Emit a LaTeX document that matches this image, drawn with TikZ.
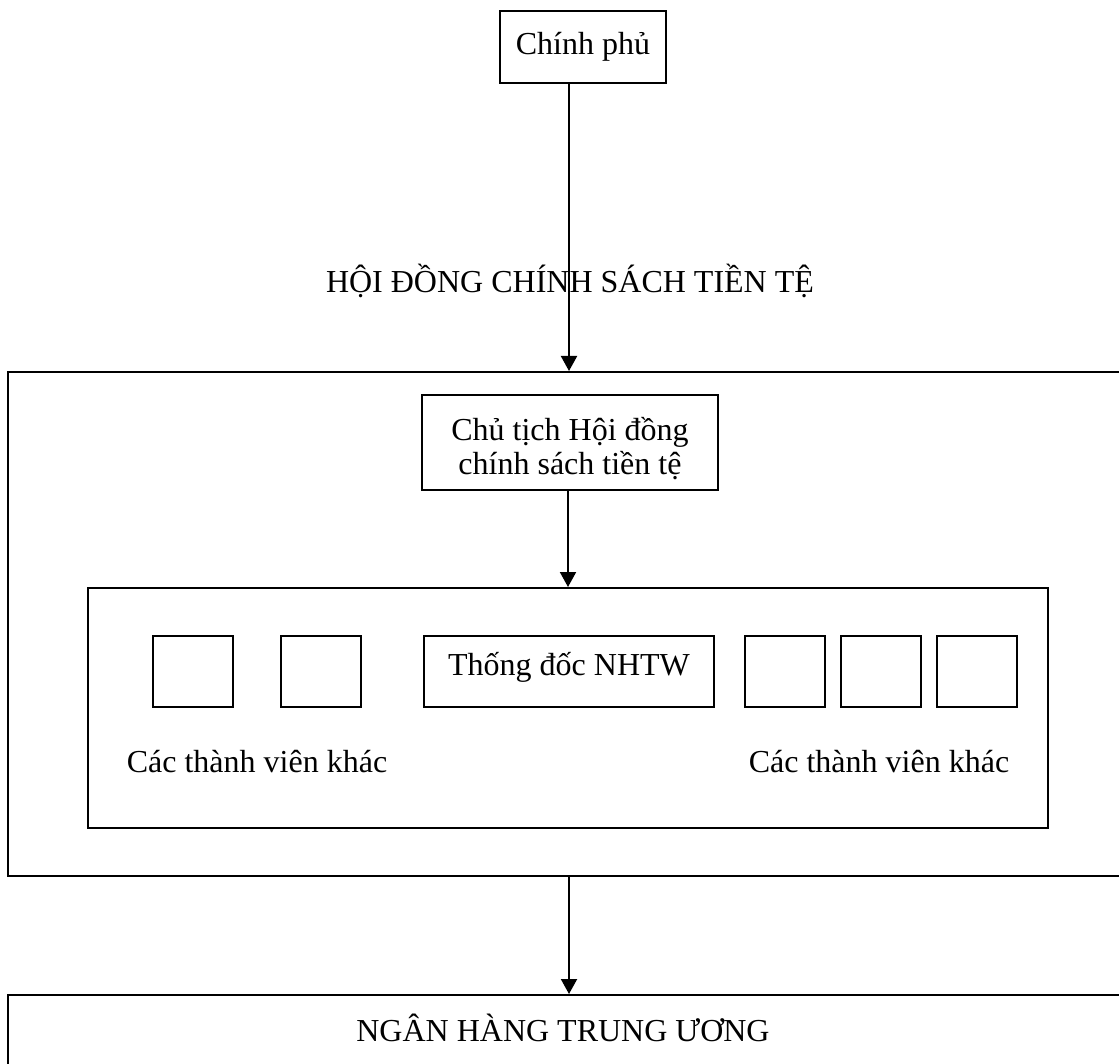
\documentclass[tikz,border=0pt]{standalone}
\usepackage{fontspec}
\setmainfont{Liberation Serif}
\usetikzlibrary{arrows.meta}

\tikzset{
  box/.style={draw, line width=2pt, inner sep=0pt, align=center},
  arr/.style={-{Triangle[length=15pt,width=16pt]}, line width=2pt},
  lbl/.style={inner sep=0pt, anchor=base},
}

\begin{document}
\begin{tikzpicture}[x=1pt, y=-1pt, font=\fontsize{32}{34}\selectfont]
  \useasboundingbox (0,0) rectangle (1119,1064);
  \clip (0,0) rectangle (1119,1064);

  % government
  \node[box, minimum width=166pt, minimum height=72pt] (cp) at (583,47) {Chính phủ};
  \node[lbl] (hdtitle) at (570,293) {HỘI ĐỒNG CHÍNH SÁCH TIỀN TỆ};

  % council (outer and inner frames)
  \node[box, minimum width=1122pt, minimum height=504pt] (hd) at (569,624) {};
  \node[box, minimum width=296pt, minimum height=95pt] (ct) at (570,442.5) {};
  \node[align=center, inner sep=0pt] (cttext) at (570,449) {Chủ tịch Hội đồng\\chính sách tiền tệ};
  \node[box, minimum width=960pt, minimum height=240pt] (tv) at (568,708) {};

  % members
  \node[box, minimum width=290pt, minimum height=71pt] (td) at (569,671.5) {};
  \node[lbl] (tdtext) at (569,675) {Thống đốc NHTW};
  \foreach \n/\x in {m1/193, m2/321, m3/785, m4/881, m5/977}
    \node[box, minimum width=80pt, minimum height=71pt] (\n) at (\x,671.5) {};
  \node[lbl] (khac1) at (257,772) {Các thành viên khác};
  \node[lbl] (khac2) at (879,772) {Các thành viên khác};

  % central bank
  \node[box, minimum width=1122pt, minimum height=140pt] (nh) at (569,1065) {};
  \node[lbl] (nhtext) at (563,1041) {NGÂN HÀNG TRUNG ƯƠNG};

  % arrows
  \draw[arr] (cp.south -| hd.north) -- (hd.north);
  \draw[arr] (ct.south -| tv.north) -- (tv.north);
  \draw[arr] (hd.south) -- (nh.north);
\end{tikzpicture}
\end{document}
